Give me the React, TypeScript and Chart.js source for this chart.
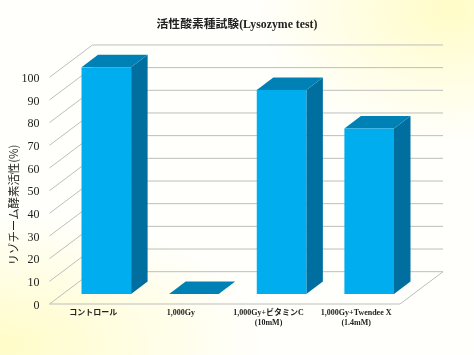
import React, { useEffect, useRef } from "react";
import { Chart, registerables } from "chart.js";

Chart.register(...registerables);

const categories: (string | string[])[] = [
  "コントロール",
  "1,000Gy",
  ["1,000Gy+ビタミンC", "(10mM)"],
  ["1,000Gy+Twendee X", "(1.4mM)"],
];
const activity = [100, 0, 90, 73];
const titleText = "活性酸素種試験(Lysozyme test)";
const yTitle = "リゾチーム酵素活性(%)";

const SERIF = '"Liberation Serif", "Noto Sans CJK JP", serif';
const WALL_DX = 43;
const WALL_DY = 32.3;
const BAR_DX = 16.5;
const BAR_DY = 12.5;
const SHIFT_X = 13;
const GRID_SHIFT = -1.5;
const SHIFT_Y = -11.5;

const threeD = {
  id: "threeD",
  beforeDatasetsDraw(chart: any) {
    const { ctx, scales, chartArea } = chart;
    const y = scales.y;
    const { left, right } = chartArea;
    ctx.save();
    ctx.strokeStyle = "#bdbdbd";
    ctx.lineWidth = 1;
    y.ticks.forEach((t: any) => {
      const p = y.getPixelForValue(t.value) + GRID_SHIFT;
      ctx.beginPath();
      ctx.moveTo(left, p);
      ctx.lineTo(left + WALL_DX, p - WALL_DY);
      ctx.lineTo(right + WALL_DX, p - WALL_DY);
      ctx.stroke();
    });
    const b = y.getPixelForValue(0) + GRID_SHIFT;
    ctx.beginPath();
    ctx.moveTo(left, b);
    ctx.lineTo(right, b);
    ctx.lineTo(right + WALL_DX, b - WALL_DY);
    ctx.stroke();
    ctx.restore();

    ctx.save();
    ctx.translate(SHIFT_X, SHIFT_Y);
    chart.getDatasetMeta(0).data.forEach((bar: any) => {
      const p = bar.getProps(["x", "y", "base", "width"], true);
      const l = p.x - p.width / 2;
      const r = p.x + p.width / 2;
      ctx.fillStyle = "#006f9f";
      ctx.beginPath();
      ctx.moveTo(r, p.y);
      ctx.lineTo(r + BAR_DX, p.y - BAR_DY);
      ctx.lineTo(r + BAR_DX, p.base - BAR_DY);
      ctx.lineTo(r, p.base);
      ctx.closePath();
      ctx.fill();
      ctx.fillStyle = "#0081b5";
      ctx.beginPath();
      ctx.moveTo(l, p.y);
      ctx.lineTo(l + BAR_DX, p.y - BAR_DY);
      ctx.lineTo(r + BAR_DX, p.y - BAR_DY);
      ctx.lineTo(r, p.y);
      ctx.closePath();
      ctx.fill();
    });
  },
  afterDatasetsDraw(chart: any) {
    chart.ctx.restore();
  },
  afterDraw(chart: any) {
    const { ctx } = chart;
    ctx.save();
    ctx.translate(14, 205);
    ctx.rotate(-Math.PI / 2);
    ctx.textAlign = "center";
    ctx.textBaseline = "middle";
    ctx.fillStyle = "#222";
    ctx.font = '11.4px "Noto Sans CJK JP", sans-serif';
    ctx.fillText(yTitle, 0, 0);
    ctx.restore();
  },
};

export default function App() {
  const ref = useRef<HTMLCanvasElement>(null);
  useEffect(() => {
    document.body.style.margin = "0";
    const chart = new Chart(ref.current!, {
      type: "bar",
      data: {
        labels: categories as any,
        datasets: [
          {
            data: activity,
            backgroundColor: "#00aeef",
            borderWidth: 0,
            barPercentage: 0.566,
            categoryPercentage: 1,
          },
        ],
      },
      options: {
        responsive: false,
        animation: false,
        layout: { padding: 0 },
        plugins: {
          legend: { display: false },
          tooltip: { enabled: false },
          title: {
            display: true,
            text: titleText,
            color: "#222",
            font: { family: SERIF, size: 11.8, weight: "bold", lineHeight: 1.2 },
            padding: { top: 18, bottom: 46.6 },
            align: "center",
            fullSize: true,
          },
        },
        scales: {
          x: {
            grid: { display: false, drawTicks: false },
            border: { display: false },
            afterFit: (s: any) => {
              s.height = 49.5;
            },
            ticks: {
              color: "#222",
              maxRotation: 0,
              autoSkip: false,
              padding: 2.5,
              font: { family: SERIF, size: 8, weight: "bold", lineHeight: 1.25 },
            },
          },
          y: {
            min: 0,
            max: 100,
            grid: { display: false },
            border: { display: false },
            afterFit: (s: any) => {
              s.width = 49.5;
            },
            ticks: {
              stepSize: 10,
              color: "#222",
              padding: 2,
              font: { family: SERIF, size: 12 },
            },
          },
          spacer: {
            position: "right",
            min: 0,
            max: 1,
            grid: { display: false },
            border: { display: false },
            ticks: { display: false },
            afterFit: (s: any) => {
              s.width = 74;
            },
          },
        },
      },
      plugins: [threeD],
    } as any);
    return () => chart.destroy();
  }, []);
  return (
    <div
      style={{
        width: 474,
        height: 355,
        background:
          "radial-gradient(ellipse 190px 130px at 450px 10px, #fffcc8 0%, rgba(255,252,200,0) 100%), radial-gradient(ellipse 260px 130px at 0px 345px, #fffcc8 0%, rgba(255,252,200,0) 100%), #fffffb",
      }}
    >
      <canvas ref={ref} width={474} height={355} style={{ display: "block" }} />
    </div>
  );
}
